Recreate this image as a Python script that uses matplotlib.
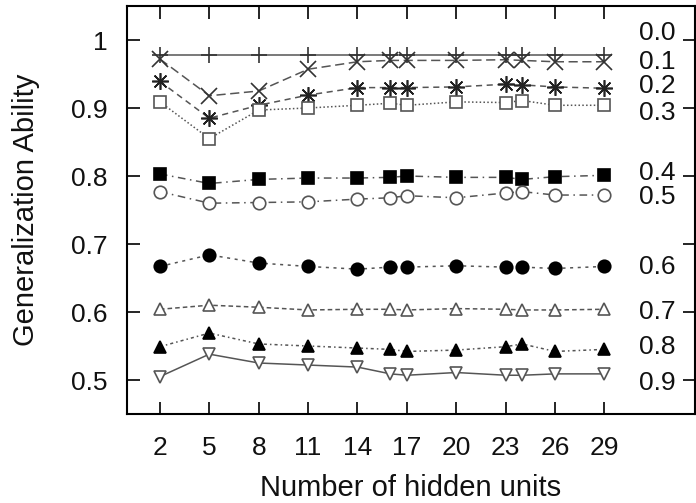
import matplotlib
matplotlib.use("Agg")
import matplotlib.pyplot as plt

plt.rcParams["font.family"] = ["Liberation Sans", "DejaVu Sans"]

hidden_units = [2, 5, 8, 11, 14, 16, 17, 20, 23, 24, 26, 29]

series_names = ["0.0", "0.1", "0.2", "0.3", "0.4", "0.5", "0.6", "0.7", "0.8", "0.9"]

s00 = [0.978, 0.978, 0.978, 0.978, 0.978, 0.978, 0.978, 0.978, 0.978, 0.978, 0.978, 0.978]
s01 = [0.972, 0.918, 0.925, 0.957, 0.968, 0.970, 0.970, 0.970, 0.971, 0.970, 0.968, 0.968]
s02 = [0.939, 0.885, 0.904, 0.919, 0.930, 0.930, 0.930, 0.931, 0.935, 0.934, 0.931, 0.929]
s03 = [0.909, 0.855, 0.897, 0.900, 0.904, 0.907, 0.904, 0.909, 0.908, 0.911, 0.904, 0.904]
s04 = [0.803, 0.789, 0.795, 0.797, 0.797, 0.798, 0.800, 0.798, 0.798, 0.795, 0.799, 0.801]
s05 = [0.777, 0.760, 0.761, 0.762, 0.766, 0.768, 0.771, 0.768, 0.775, 0.777, 0.772, 0.772]
s06 = [0.667, 0.684, 0.672, 0.667, 0.663, 0.666, 0.666, 0.668, 0.666, 0.666, 0.664, 0.667]
s07 = [0.604, 0.610, 0.607, 0.603, 0.604, 0.604, 0.603, 0.605, 0.604, 0.603, 0.603, 0.604]
s08 = [0.549, 0.569, 0.553, 0.550, 0.547, 0.545, 0.542, 0.544, 0.549, 0.553, 0.542, 0.545]
s09 = [0.505, 0.538, 0.525, 0.522, 0.519, 0.509, 0.507, 0.511, 0.507, 0.507, 0.509, 0.509]

all_series = [s00, s01, s02, s03, s04, s05, s06, s07, s08, s09]

xticks = [2, 5, 8, 11, 14, 17, 20, 23, 26, 29]
yticks = [0.5, 0.6, 0.7, 0.8, 0.9, 1.0]
ytick_labels = ["0.5", "0.6", "0.7", "0.8", "0.9", "1"]

# gnuplot-like line/point styles
styles = [
    dict(ls="-", marker="+", mfc="none", mec="#333333", ms=12),
    dict(ls=(0, (6, 3)), marker="x", mfc="none", mec="#333333", ms=11),
    dict(ls=(0, (4, 3)), marker=(8, 2, 0), mfc="none", mec="#222222", ms=12),
    dict(ls=(0, (1, 1.5)), marker="s", mfc="white", mec="#555555", ms=9),
    dict(ls=(0, (5, 3, 1, 3)), marker="s", mfc="black", mec="black", ms=9),
    dict(ls=(0, (5, 3, 1, 3)), marker="o", mfc="white", mec="#555555", ms=9),
    dict(ls=(0, (2, 3, 2, 3)), marker="o", mfc="black", mec="black", ms=9),
    dict(ls=(0, (3, 2)), marker="^", mfc="white", mec="#555555", ms=9),
    dict(ls=(0, (2, 2, 1, 2)), marker="^", mfc="black", mec="black", ms=9),
    dict(ls="-", marker="v", mfc="white", mec="#555555", ms=9),
]

# where the series names sit at the right edge
label_y = [1.010, 0.968, 0.932, 0.893, 0.804, 0.769, 0.666, 0.600, 0.549, 0.496]

fig = plt.figure(figsize=(6.96, 5.03), dpi=100)
ax = fig.add_axes([127 / 696, 1 - 414 / 503, 568 / 696, 408 / 503])

for vals, st, name, ly in zip(all_series, styles, series_names, label_y):
    ax.plot(hidden_units, vals, linestyle=st["ls"], color="#555555", lw=1.1,
            marker=st["marker"], ms=st["ms"], mfc=st["mfc"], mec=st["mec"], mew=1.2)
    ax.text(31.1, ly, name, fontsize=19, va="center", ha="left", color="#111111")

ax.set_xlim(0, 34.5)
ax.set_ylim(0.45, 1.05)
ax.set_xticks(xticks)
ax.set_yticks(yticks)
ax.set_yticklabels(ytick_labels)
ax.tick_params(direction="in", length=9, width=1.2, top=True, right=True,
               labelsize=19, labelcolor="#111111")
ax.tick_params(axis="x", pad=16)
ax.tick_params(axis="y", pad=14)
for sp in ax.spines.values():
    sp.set_linewidth(1.5)

ax.set_xlabel("Number of hidden units", fontsize=21, labelpad=10, color="#111111")
ax.set_ylabel("Generalization Ability", fontsize=21, labelpad=22, color="#111111")

fig.savefig("out.png", dpi=100)
